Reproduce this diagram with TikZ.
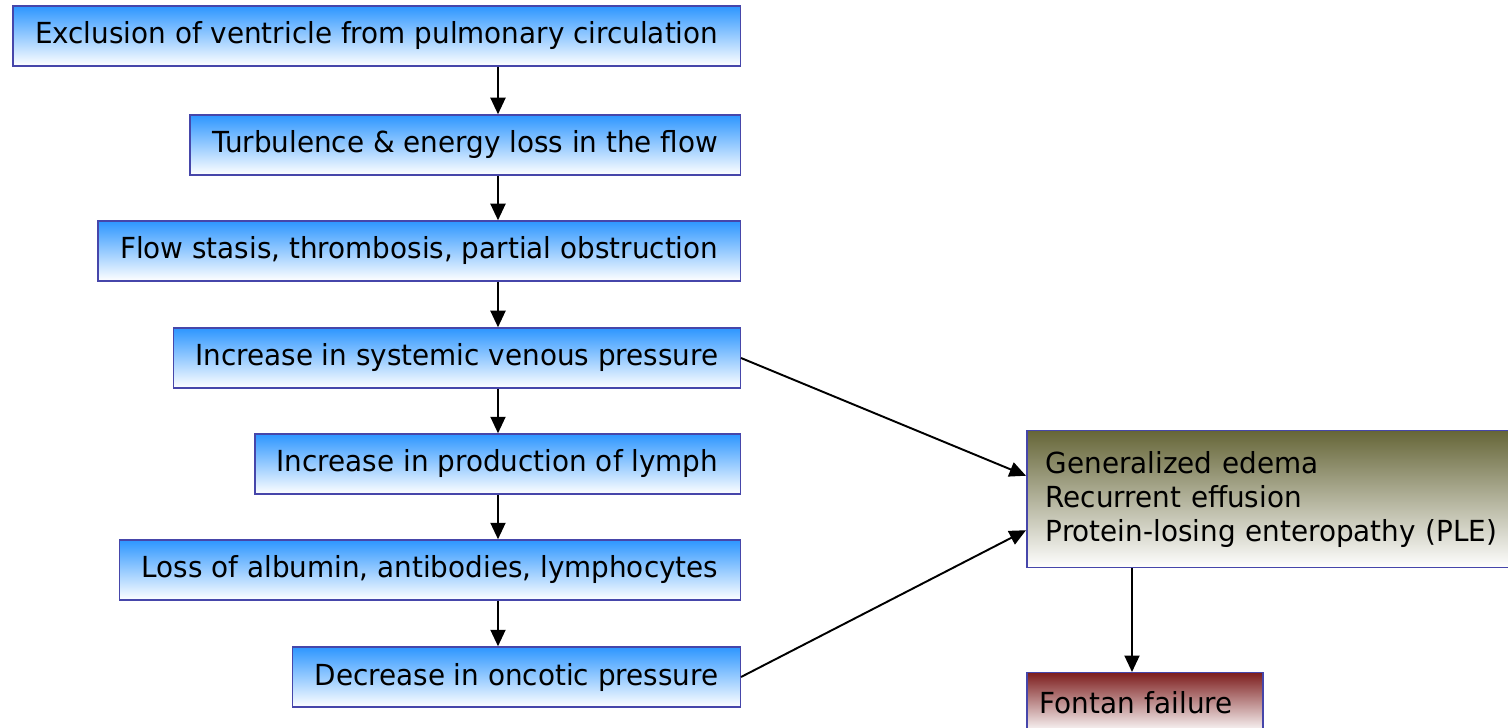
\documentclass[tikz,border=0pt]{standalone}
\usepackage{fontspec}
\setmainfont{DejaVu Sans}[FakeStretch=0.96]
\usepackage{tikz}
\usetikzlibrary{arrows.meta, calc, positioning}
\definecolor{boxblue}{RGB}{45,150,255}
\definecolor{boxedge}{RGB}{70,70,170}
\definecolor{edemaolive}{RGB}{102,102,56}
\definecolor{failred}{RGB}{125,30,30}
\newcommand{\flowfont}{\fontsize{16.5}{19.4}\selectfont}
\tikzset{
  stepbox/.style ={draw=boxedge, line width=0.85pt, top color=boxblue, bottom color=white, minimum height=1.2cm, inner xsep=0.44cm, anchor=east, font=\flowfont},
  edemabox/.style={draw=boxedge, line width=0.85pt, top color=edemaolive, bottom color=white, minimum height=2.74cm, text width=10cm, inner xsep=0.38cm, align=left, anchor=north west, font=\flowfont},
  failbox/.style ={draw=boxedge, line width=0.85pt, top color=failred, bottom color=white, minimum height=1.2cm, text width=4.2cm, inner xsep=0.26cm, align=left, anchor=north west, font=\flowfont},
  flow/.style    ={-{Triangle[length=0.33cm, width=0.3cm]}, line width=1.1pt},
}

\begin{document}
\begin{tikzpicture}
  \useasboundingbox (0,0) rectangle (30.16,-14.56);

  % --- cascade ---
  \node[stepbox] (excl)    at (14.82,-0.72)  {Exclusion of ventricle from pulmonary circulation};
  \node[stepbox] (turb)    at (14.82,-2.9)   {Turbulence \& energy loss in the flow};
  \node[stepbox] (stasis)  at (14.82,-5.02)  {Flow stasis, thrombosis, partial obstruction};
  \node[stepbox] (venous)  at (14.82,-7.16)  {Increase in systemic venous pressure};
  \node[stepbox] (lymph)   at (14.82,-9.28)  {Increase in production of lymph};
  \node[stepbox] (albumin) at (14.82,-11.4)  {Loss of albumin, antibodies, lymphocytes};
  \node[stepbox] (oncotic) at (14.82,-13.54) {Decrease in oncotic pressure};
  \coordinate (col) at (9.96,0);
  \foreach \a/\b in {excl/turb, turb/stasis, stasis/venous, venous/lymph, lymph/albumin, albumin/oncotic}
    \draw[flow] (\a.south -| col) -- (\b.north -| col);

  % --- outcome ---
  \node[edemabox] (edema) at (20.52,-8.6) {Generalized edema\\Recurrent effusion\\Protein-losing enteropathy (PLE)};
  \node[failbox]  (fail)  at (20.52,-13.44) {Fontan failure};
  \coordinate (fcol) at (22.64,0);
  \draw[flow] (edema.south -| fcol) -- (fail.north -| fcol);
  \draw[flow] (venous.east)  -- ([yshift=0.47cm]edema.west);
  \draw[flow] (oncotic.east) -- ([yshift=-0.62cm]edema.west);
\end{tikzpicture}
\end{document}
